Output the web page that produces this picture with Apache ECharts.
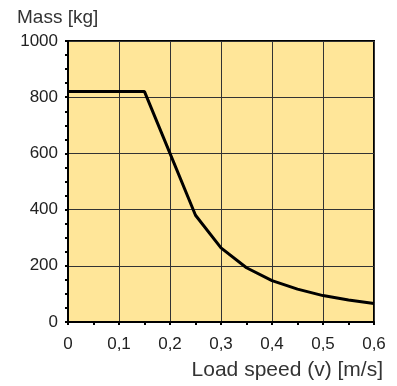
<!DOCTYPE html>
<html>
<head>
<meta charset="utf-8">
<script src="https://cdn.jsdelivr.net/npm/echarts@6/dist/echarts.min.js"></script>
<style>
  html, body { margin: 0; padding: 0; background: #fff; }
  #chart { width: 397px; height: 386px; }
</style>
</head>
<body>
<div id="chart"></div>
<script>
// load speed (m/s) vs. mass (kg)
const speeds = [0, 0.15, 0.2, 0.25, 0.3, 0.35, 0.4, 0.45, 0.5, 0.55, 0.6];
const masses = [820, 820, 600, 380, 264, 193, 147, 117, 94, 78, 66];
const yTitle = 'Mass [kg]';
const xTitle = 'Load speed (v) [m/s]';

const font = 'Liberation Sans, Arial, sans-serif';
const chart = echarts.init(document.getElementById('chart'));

chart.setOption({
  animation: false,
  grid: {
    left: 68, right: 23, top: 41, bottom: 64,
    show: true,
    backgroundColor: '#ffe699',
    borderColor: '#000',
    borderWidth: 2
  },
  graphic: [
    { type: 'text', left: 17, top: 8, style: { text: yTitle, font: '19px ' + font, fill: '#333' } },
    { type: 'text', right: 14, top: 360, style: { text: xTitle, font: '21px ' + font, fill: '#333' } }
  ],
  xAxis: {
    type: 'value',
    min: 0, max: 0.6, interval: 0.1,
    axisLine: { lineStyle: { color: '#000', width: 2 } },
    axisTick: { show: true, length: 3, lineStyle: { color: '#000', width: 2 } },
    minorTick: { show: true, splitNumber: 2, length: 3, lineStyle: { color: '#000', width: 2 } },
    splitLine: { show: true, lineStyle: { color: '#333', width: 1 } },
    axisLabel: {
      color: '#222', fontSize: 17, fontFamily: font, margin: 14,
      formatter: v => String(+v.toFixed(1)).replace('.', ',')
    }
  },
  yAxis: {
    type: 'value',
    min: 0, max: 1000, interval: 200,
    axisLine: { show: true, lineStyle: { color: '#000', width: 2 } },
    axisTick: { show: true, length: 3, lineStyle: { color: '#000', width: 2 } },
    minorTick: { show: true, splitNumber: 4, length: 3, lineStyle: { color: '#000', width: 2 } },
    splitLine: { show: true, lineStyle: { color: '#333', width: 1 } },
    axisLabel: { color: '#222', fontSize: 17, fontFamily: font, margin: 10, formatter: v => String(v) }
  },
  series: [{
    type: 'line',
    data: speeds.map((s, i) => [s, masses[i]]),
    showSymbol: false,
    lineStyle: { color: '#000', width: 3 }
  }]
});
</script>
</body>
</html>
